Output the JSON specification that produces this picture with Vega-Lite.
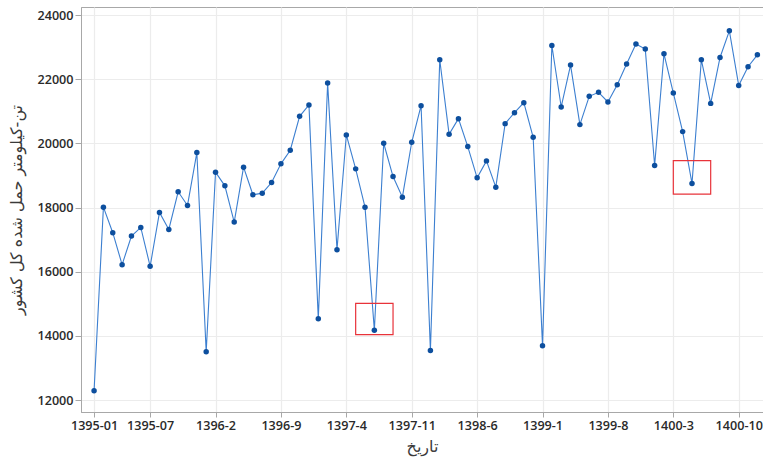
{
  "$schema": "https://vega.github.io/schema/vega-lite/v6.json",
  "autosize": "none",
  "padding": {"left": 81, "top": 7, "right": 0, "bottom": 46},
  "width": 682,
  "height": 405,
  "background": "white",
  "config": {
    "view": {"stroke": "#a8a8a8", "strokeWidth": 1},
    "axis": {
      "labelFont": "Open Sans",
      "labelFontSize": 12.6,
      "labelFontWeight": 600,
      "labelColor": "#2a2a2a",
      "titleFont": "DejaVu Sans",
      "titleFontSize": 16,
      "titleFontWeight": "normal",
      "titleColor": "#3a3a3a",
      "domainColor": "#a8a8a8",
      "tickColor": "#a8a8a8",
      "gridColor": "#ececec",
      "gridWidth": 1.2
    }
  },
  "datasets": {
    "series": [
      {"month": "1395-01", "value": 12290},
      {"month": "1395-02", "value": 18012},
      {"month": "1395-03", "value": 17215},
      {"month": "1395-04", "value": 16220},
      {"month": "1395-05", "value": 17110},
      {"month": "1395-06", "value": 17380},
      {"month": "1395-07", "value": 16167},
      {"month": "1395-08", "value": 17847},
      {"month": "1395-09", "value": 17318},
      {"month": "1395-10", "value": 18490},
      {"month": "1395-11", "value": 18065},
      {"month": "1395-12", "value": 19713},
      {"month": "1396-01", "value": 13503},
      {"month": "1396-02", "value": 19100},
      {"month": "1396-03", "value": 18676},
      {"month": "1396-04", "value": 17546},
      {"month": "1396-05", "value": 19257},
      {"month": "1396-06", "value": 18397},
      {"month": "1396-07", "value": 18448},
      {"month": "1396-08", "value": 18780},
      {"month": "1396-09", "value": 19361},
      {"month": "1396-10", "value": 19785},
      {"month": "1396-11", "value": 20843},
      {"month": "1396-12", "value": 21196},
      {"month": "1397-01", "value": 14530},
      {"month": "1397-02", "value": 21880},
      {"month": "1397-03", "value": 16686},
      {"month": "1397-04", "value": 20263},
      {"month": "1397-05", "value": 19205},
      {"month": "1397-06", "value": 18012},
      {"month": "1397-07", "value": 14177},
      {"month": "1397-08", "value": 20003},
      {"month": "1397-09", "value": 18966},
      {"month": "1397-10", "value": 18323},
      {"month": "1397-11", "value": 20034},
      {"month": "1397-12", "value": 21175},
      {"month": "1398-01", "value": 13545},
      {"month": "1398-02", "value": 22605},
      {"month": "1398-03", "value": 20283},
      {"month": "1398-04", "value": 20770},
      {"month": "1398-05", "value": 19900},
      {"month": "1398-06", "value": 18926},
      {"month": "1398-07", "value": 19454},
      {"month": "1398-08", "value": 18635},
      {"month": "1398-09", "value": 20615},
      {"month": "1398-10", "value": 20957},
      {"month": "1398-11", "value": 21268},
      {"month": "1398-12", "value": 20190},
      {"month": "1399-01", "value": 13690},
      {"month": "1399-02", "value": 23050},
      {"month": "1399-03", "value": 21134},
      {"month": "1399-04", "value": 22440},
      {"month": "1399-05", "value": 20584},
      {"month": "1399-06", "value": 21465},
      {"month": "1399-07", "value": 21590},
      {"month": "1399-08", "value": 21290},
      {"month": "1399-09", "value": 21828},
      {"month": "1399-10", "value": 22472},
      {"month": "1399-11", "value": 23095},
      {"month": "1399-12", "value": 22938},
      {"month": "1400-01", "value": 19310},
      {"month": "1400-02", "value": 22792},
      {"month": "1400-03", "value": 21570},
      {"month": "1400-04", "value": 20366},
      {"month": "1400-05", "value": 18749},
      {"month": "1400-06", "value": 22605},
      {"month": "1400-07", "value": 21246},
      {"month": "1400-08", "value": 22677},
      {"month": "1400-09", "value": 23507},
      {"month": "1400-10", "value": 21806},
      {"month": "1400-11", "value": 22387},
      {"month": "1400-12", "value": 22760}
    ],
    "boxes": [
      {"start": "1397-05", "end": "1397-09", "low": 14040, "high": 15010},
      {"start": "1400-03", "end": "1400-07", "low": 18416, "high": 19464}
    ]
  },
  "encoding": {
    "x": {
      "field": "month",
      "type": "ordinal",
      "title": "تاریخ",
      "scale": {"type": "point", "padding": 1.2, "align": 0.7},
      "axis": {
        "values": ["1395-01", "1395-07", "1396-02", "1396-09", "1397-04", "1397-11", "1398-06", "1399-01", "1399-08", "1400-03", "1400-10"],
        "labelExpr": "slice(datum.value, 0, 4) == '1395' ? datum.value : replace(datum.value, '-0', '-')",
        "labelAngle": 0,
        "tickSize": 5,
        "labelPadding": 2,
        "titlePadding": 7,
        "grid": true
      }
    },
    "y": {
      "field": "value",
      "type": "quantitative",
      "title": "تن-کیلومتر حمل شده کل کشور",
      "scale": {"domain": [11627, 24250], "nice": false, "zero": false},
      "axis": {
        "values": [12000, 14000, 16000, 18000, 20000, 22000, 24000],
        "format": "d",
        "tickSize": 6,
        "labelPadding": 2,
        "titlePadding": 12,
        "grid": true
      }
    }
  },
  "layer": [
    {
      "data": {"name": "series"},
      "mark": {"type": "line", "color": "#3c7fd0", "strokeWidth": 1.1}
    },
    {
      "data": {"name": "series"},
      "mark": {"type": "point", "filled": true, "color": "#0d4f9e", "size": 30, "opacity": 1}
    },
    {
      "data": {"name": "boxes"},
      "mark": {"type": "rect", "fill": null, "fillOpacity": 0, "stroke": "#e8333a", "strokeWidth": 1.2},
      "encoding": {
        "x": {"field": "start", "type": "ordinal"},
        "x2": {"field": "end"},
        "y": {"field": "low", "type": "quantitative"},
        "y2": {"field": "high"}
      }
    }
  ]
}
